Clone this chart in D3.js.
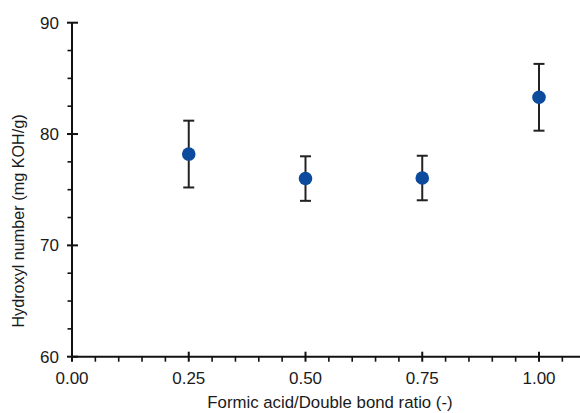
<!DOCTYPE html>
<html><head><meta charset="utf-8">
<script src="https://cdn.jsdelivr.net/npm/d3@7"></script>
<style>body{margin:0;background:#fff}svg{display:block}text{font-family:"Liberation Sans",Arial,sans-serif;fill:#1a1a1a}</style>
</head><body><svg id="c" width="580" height="413"></svg>
<script>
const ratios = [0.25, 0.50, 0.75, 1.00];
const hydroxyl = [78.2, 76.0, 76.05, 83.3];
const errors = [3.0, 2.0, 2.0, 3.0];
const xTicks = [0, 0.25, 0.5, 0.75, 1.0];
const yTicks = [60, 70, 80, 90];

const svg = d3.select("#c");
const x = d3.scaleLinear().domain([0, 1.1]).range([72, 72 + 467 * 1.1]);
const y = d3.scaleLinear().domain([60, 90]).range([356.7, 22.7]);
const ink = "#111";

// minor ticks
const xMinor = d3.range(0, 1.1001, 0.05).filter(v => Math.abs(v / 0.25 - Math.round(v / 0.25)) > 1e-6);
const yMinor = d3.range(60, 90.001, 2.5).filter(v => v % 10 !== 0);
svg.selectAll(".xm").data(xMinor).join("line")
  .attr("x1", d => x(d)).attr("x2", d => x(d)).attr("y1", y(60)).attr("y2", y(60) + 5)
  .attr("stroke", ink).attr("stroke-width", 1.6);
svg.selectAll(".ym").data(yMinor).join("line")
  .attr("y1", d => y(d)).attr("y2", d => y(d)).attr("x1", x(0) - 4.5).attr("x2", x(0))
  .attr("stroke", ink).attr("stroke-width", 1.6);

// axes lines
svg.append("line").attr("x1", x(0)).attr("x2", 580).attr("y1", y(60)).attr("y2", y(60)).attr("stroke", ink).attr("stroke-width", 2);
svg.append("line").attr("x1", x(0)).attr("x2", x(0)).attr("y1", y(60)).attr("y2", y(90)).attr("stroke", ink).attr("stroke-width", 2);

// major ticks
svg.selectAll(".xM").data(xTicks).join("line")
  .attr("x1", d => x(d)).attr("x2", d => x(d)).attr("y1", y(60) - 5).attr("y2", y(60) + 5)
  .attr("stroke", ink).attr("stroke-width", 2);
svg.selectAll(".yM").data(yTicks).join("line")
  .attr("y1", d => y(d)).attr("y2", d => y(d)).attr("x1", x(0) - 5).attr("x2", x(0) + 6)
  .attr("stroke", ink).attr("stroke-width", 2);

// tick labels
svg.selectAll(".xl").data(xTicks).join("text")
  .attr("x", d => x(d)).attr("y", 384).attr("text-anchor", "middle")
  .attr("font-size", 17).text(d => d3.format(".2f")(d));
svg.selectAll(".yl").data(yTicks).join("text")
  .attr("x", 59).attr("y", d => y(d) + 6).attr("text-anchor", "end")
  .attr("font-size", 17).text(d => d);

// axis titles
svg.append("text").attr("x", 330).attr("y", 408).attr("text-anchor", "middle").attr("font-size", 16.8)
  .text("Formic acid/Double bond ratio (-)");
svg.append("text").attr("transform", "translate(24,221) rotate(-90)").attr("text-anchor", "middle").attr("font-size", 16.2)
  .text("Hydroxyl number (mg KOH/g)");

// error bars
const g = svg.append("g");
ratios.forEach((r, i) => {
  const cx = x(r), lo = y(hydroxyl[i] - errors[i]), hi = y(hydroxyl[i] + errors[i]);
  g.append("line").attr("x1", cx).attr("x2", cx).attr("y1", lo).attr("y2", hi).attr("stroke", "#222").attr("stroke-width", 2);
  g.append("line").attr("x1", cx - 5.5).attr("x2", cx + 5.5).attr("y1", lo).attr("y2", lo).attr("stroke", "#222").attr("stroke-width", 2);
  g.append("line").attr("x1", cx - 5.5).attr("x2", cx + 5.5).attr("y1", hi).attr("y2", hi).attr("stroke", "#222").attr("stroke-width", 2);
});
svg.selectAll(".pt").data(ratios).join("circle")
  .attr("cx", d => x(d)).attr("cy", (d, i) => y(hydroxyl[i])).attr("r", 6.8)
  .attr("fill", "#0b4a9c");
</script></body></html>
